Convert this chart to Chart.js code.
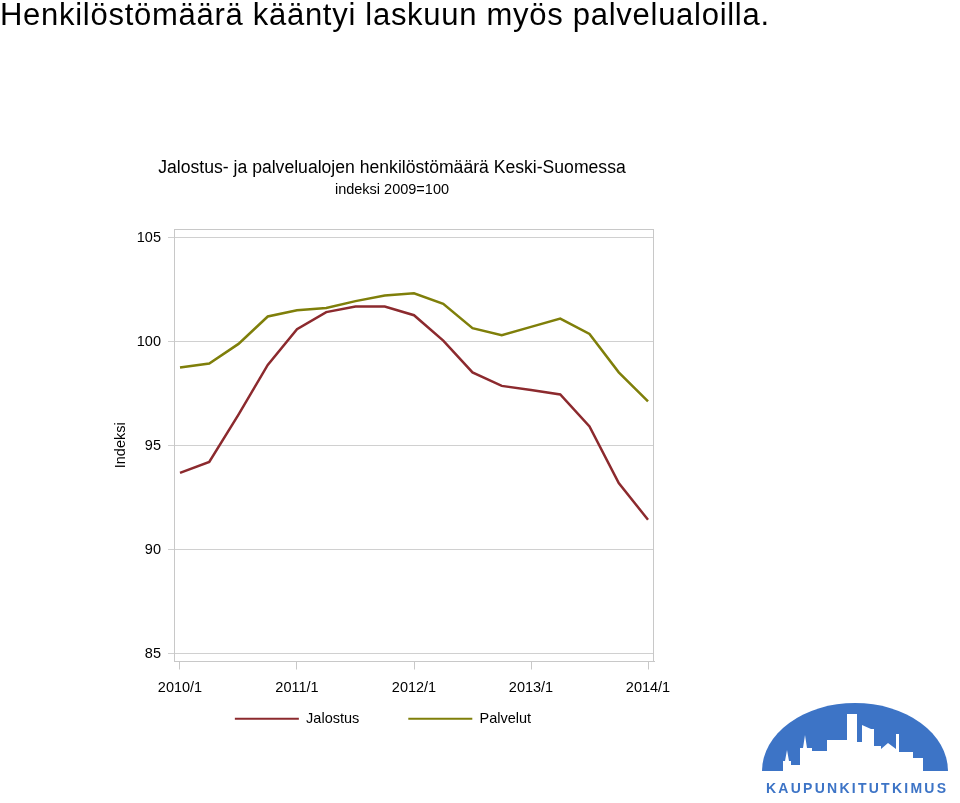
<!DOCTYPE html>
<html>
<head>
<meta charset="utf-8">
<script src="https://cdn.jsdelivr.net/npm/chart.js@4.4.0/dist/chart.umd.min.js"></script>
<style>
html,body{margin:0;padding:0;background:#fff;width:960px;height:803px;overflow:hidden;font-family:"Liberation Sans",Arial,sans-serif;color:#000;}
#headline{position:absolute;left:0;top:-1px;font-size:31px;line-height:31px;letter-spacing:0.72px;white-space:nowrap;}
#ctitle{position:absolute;left:0;width:784px;top:157px;text-align:center;font-size:17.6px;line-height:20px;white-space:nowrap;}
#csub{position:absolute;left:0;width:784px;top:180.5px;text-align:center;font-size:14.5px;line-height:17px;white-space:nowrap;}
#wrap{position:absolute;left:0;top:0;width:960px;height:803px;}
#logo{position:absolute;left:750px;top:690px;}
</style>
</head>
<body>
<div id="wrap"><canvas id="c" width="960" height="803"></canvas></div>
<div id="headline">Henkilöstömäärä kääntyi laskuun myös palvelualoilla.</div>
<div id="ctitle">Jalostus- ja palvelualojen henkilöstömäärä Keski-Suomessa</div>
<div id="csub">indeksi 2009=100</div>
<svg id="logo" width="210" height="113" viewBox="750 690 210 113" xmlns="http://www.w3.org/2000/svg">
  <path d="M 762 771 A 93 68 0 0 1 948 771 Z" fill="#3d74c6"/>
  <polygon fill="#ffffff" points="760,772 783,772 783,761 785,761 787,750 789,761 791,761 791,765 800,765 800,748 803,748 805,735 807,748 812,748 812,751 827,751 827,740 847,740 847,714 857,714 857,742 862,742 862,725 871,729 874,729 874,746 881,746 881,749 888,743 896,749 896,734 899,734 899,752 913,752 913,758 923,758 923,772 950,772 950,776 760,776"/>
  <text x="856" y="793" text-anchor="middle" font-family="Liberation Sans Narrow, Liberation Sans, Arial, sans-serif" font-weight="bold" font-size="14" fill="#3d74c6" textLength="180" lengthAdjust="spacing">KAUPUNKITUTKIMUS</text>
</svg>
<script>
const quarters = ['2010/1','2010/2','2010/3','2010/4','2011/1','2011/2','2011/3','2011/4','2012/1','2012/2','2012/3','2012/4','2013/1','2013/2','2013/3','2013/4','2014/1'];
const jalostus = [93.69, 94.22, 96.5, 98.89, 100.61, 101.43, 101.70, 101.70, 101.28, 100.06, 98.53, 97.88, 97.68, 97.47, 95.93, 93.20, 91.44];
const palvelut = [98.76, 98.96, 99.9, 101.22, 101.52, 101.63, 101.96, 102.23, 102.34, 101.83, 100.66, 100.32, 100.72, 101.12, 100.38, 98.53, 97.13];
const yTicks = [85, 90, 95, 100, 105];
const xTickStep = 4;

const FAM = '"Liberation Sans", Arial, sans-serif';
const font = {family: FAM, size: 14.5};
const X_AXIS_H = 40;

const framePlugin = {
  id: 'frame',
  beforeDatasetsDraw(chart) {
    const {ctx, chartArea: a} = chart;
    ctx.save();
    ctx.strokeStyle = '#c8c8c8';
    ctx.lineWidth = 1;
    ctx.strokeRect(Math.round(a.left) + 0.5, Math.round(a.top) + 0.5, Math.round(a.right - a.left) - 1, Math.round(a.bottom - a.top) - 1);
    ctx.restore();
  }
};

// lift the legend so it sits right under the tick labels (its large padding only serves the horizontal gap)
const legendLift = {
  id: 'legendLift',
  afterLayout(chart) {
    const lg = chart.legend;
    if (lg) { lg.top -= (X_AXIS_H - 1); lg.bottom -= (X_AXIS_H - 1); }
  }
};

new Chart(document.getElementById('c'), {
  type: 'line',
  data: {
    datasets: [
      {label: 'Jalostus', data: jalostus.map((v, i) => ({x: i, y: v})), borderColor: '#8c2a2e', backgroundColor: '#8c2a2e', borderWidth: 2.5, pointRadius: 0, tension: 0},
      {label: 'Palvelut', data: palvelut.map((v, i) => ({x: i, y: v})), borderColor: '#7f7f0a', backgroundColor: '#7f7f0a', borderWidth: 2.5, pointRadius: 0, tension: 0}
    ]
  },
  options: {
    responsive: false,
    animation: false,
    layout: {padding: {top: 229, left: 112, right: 306, bottom: 28}},
    plugins: {
      title: {display: false},
      tooltip: {enabled: false},
      legend: {
        position: 'bottom',
        labels: {
          boxWidth: 64, boxHeight: 2, padding: 49, font: font, color: '#000',
          generateLabels(chart) {
            const items = Chart.defaults.plugins.legend.labels.generateLabels(chart);
            items.forEach(it => { it.lineWidth = 0; it.fillStyle = it.strokeStyle; });
            return items;
          }
        }
      }
    },
    scales: {
      x: {
        type: 'linear', min: -0.205, max: 16.205,
        afterBuildTicks: s => { s.ticks = quarters.map((q, i) => ({value: i})).filter(t => t.value % xTickStep === 0); },
        ticks: {callback: v => quarters[v], font: font, color: '#000', padding: 10, maxRotation: 0, autoSkip: false},
        grid: {drawOnChartArea: false, drawTicks: true, tickLength: 8, color: '#c8c8c8'},
        border: {display: true, color: '#c8c8c8'},
        afterFit: s => { s.height = X_AXIS_H; }
      },
      y: {
        min: 84.615, max: 105.43,
        afterBuildTicks: s => { s.ticks = yTicks.map(v => ({value: v})); },
        ticks: {font: font, color: '#000', padding: 7},
        grid: {color: '#d0d0d0', tickLength: 6},
        border: {display: true, color: '#c8c8c8'},
        title: {display: true, text: 'Indeksi', font: font, color: '#000', padding: 0},
        afterFit: s => { s.width = 62; }
      }
    }
  },
  plugins: [framePlugin, legendLift]
});
</script>
</body>
</html>
